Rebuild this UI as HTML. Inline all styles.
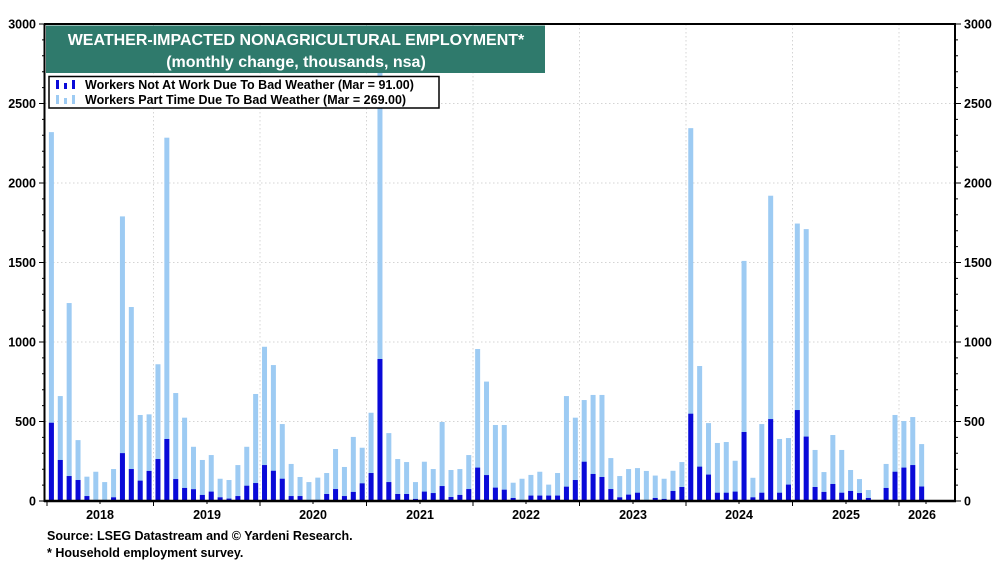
<!DOCTYPE html>
<html><head><meta charset="utf-8"><style>
html,body{margin:0;padding:0;background:#fff;}
svg{display:block;font-family:"Liberation Sans",Arial,sans-serif;font-weight:bold;}
</style></head><body>
<svg width="1000" height="563" viewBox="0 0 1000 563" xmlns="http://www.w3.org/2000/svg">
<rect width="1000" height="563" fill="#fff"/>
<g stroke="#d4d4d4" stroke-width="1" stroke-dasharray="1.5,2.5">
<line x1="45" x2="955" y1="421.5" y2="421.5"/><line x1="45" x2="955" y1="342" y2="342"/>
<line x1="45" x2="955" y1="262.5" y2="262.5"/><line x1="45" x2="955" y1="183" y2="183"/>
<line x1="45" x2="955" y1="103.5" y2="103.5"/>
<line x1="153.5" x2="153.5" y1="24" y2="501"/><line x1="260" x2="260" y1="24" y2="501"/>
<line x1="366.5" x2="366.5" y1="24" y2="501"/><line x1="473" x2="473" y1="24" y2="501"/>
<line x1="579.5" x2="579.5" y1="24" y2="501"/><line x1="686" x2="686" y1="24" y2="501"/>
<line x1="792.5" x2="792.5" y1="24" y2="501"/><line x1="899" x2="899" y1="24" y2="501"/>
</g>
<g transform="translate(48.9,501) scale(1,-0.159)" fill="#9dcbf3">
<rect x="0" width="5" height="2320"/><rect x="8.88" width="5" height="660"/><rect x="17.76" width="5" height="1245"/><rect x="26.64" width="5" height="383"/><rect x="35.52" width="5" height="153"/><rect x="44.4" width="5" height="184"/><rect x="53.28" width="5" height="119"/><rect x="62.16" width="5" height="201"/><rect x="71.04" width="5" height="1790"/><rect x="79.92" width="5" height="1220"/><rect x="88.8" width="5" height="541"/><rect x="97.68" width="5" height="545"/>
<rect x="106.56" width="5" height="860"/><rect x="115.44" width="5" height="2285"/><rect x="124.32" width="5" height="679"/><rect x="133.2" width="5" height="524"/><rect x="142.08" width="5" height="341"/><rect x="150.96" width="5" height="258"/><rect x="159.84" width="5" height="289"/><rect x="168.72" width="5" height="140"/><rect x="177.6" width="5" height="132"/><rect x="186.48" width="5" height="226"/><rect x="195.36" width="5" height="341"/><rect x="204.24" width="5" height="673"/>
<rect x="213.12" width="5" height="970"/><rect x="222" width="5" height="855"/><rect x="230.88" width="5" height="484"/><rect x="239.76" width="5" height="233"/><rect x="248.64" width="5" height="151"/><rect x="257.52" width="5" height="119"/><rect x="266.4" width="5" height="147"/><rect x="275.28" width="5" height="176"/><rect x="284.16" width="5" height="327"/><rect x="293.04" width="5" height="214"/><rect x="301.92" width="5" height="403"/><rect x="310.8" width="5" height="335"/>
<rect x="319.68" width="5" height="555"/><rect x="328.56" width="5" height="2700"/><rect x="337.44" width="5" height="427"/><rect x="346.32" width="5" height="264"/><rect x="355.2" width="5" height="245"/><rect x="364.08" width="5" height="119"/><rect x="372.96" width="5" height="247"/><rect x="381.84" width="5" height="201"/><rect x="390.72" width="5" height="497"/><rect x="399.6" width="5" height="195"/><rect x="408.48" width="5" height="201"/><rect x="417.36" width="5" height="289"/>
<rect x="426.24" width="5" height="956"/><rect x="435.12" width="5" height="751"/><rect x="444" width="5" height="478"/><rect x="452.88" width="5" height="478"/><rect x="461.76" width="5" height="115"/><rect x="470.64" width="5" height="140"/><rect x="479.52" width="5" height="164"/><rect x="488.4" width="5" height="184"/><rect x="497.28" width="5" height="103"/><rect x="506.16" width="5" height="176"/><rect x="515.04" width="5" height="660"/><rect x="523.92" width="5" height="524"/>
<rect x="532.8" width="5" height="635"/><rect x="541.68" width="5" height="667"/><rect x="550.56" width="5" height="667"/><rect x="559.44" width="5" height="270"/><rect x="568.32" width="5" height="157"/><rect x="577.2" width="5" height="201"/><rect x="586.08" width="5" height="207"/><rect x="594.96" width="5" height="189"/><rect x="603.84" width="5" height="160"/><rect x="612.72" width="5" height="140"/><rect x="621.6" width="5" height="190"/><rect x="630.48" width="5" height="245"/>
<rect x="639.36" width="5" height="2345"/><rect x="648.24" width="5" height="849"/><rect x="657.12" width="5" height="490"/><rect x="666" width="5" height="365"/><rect x="674.88" width="5" height="371"/><rect x="683.76" width="5" height="253"/><rect x="692.64" width="5" height="1510"/><rect x="701.52" width="5" height="146"/><rect x="710.4" width="5" height="484"/><rect x="719.28" width="5" height="1920"/><rect x="728.16" width="5" height="390"/><rect x="737.04" width="5" height="396"/>
<rect x="745.92" width="5" height="1745"/><rect x="754.8" width="5" height="1710"/><rect x="763.68" width="5" height="321"/><rect x="772.56" width="5" height="182"/><rect x="781.44" width="5" height="415"/><rect x="790.32" width="5" height="321"/><rect x="799.2" width="5" height="195"/><rect x="808.08" width="5" height="138"/><rect x="816.96" width="5" height="69"/><rect x="834.72" width="5" height="233"/><rect x="843.6" width="5" height="541"/><rect x="852.48" width="5" height="503"/>
<rect x="861.36" width="5" height="528"/><rect x="870.24" width="5" height="358"/>
</g>
<g transform="translate(48.9,501) scale(1,-0.159)" fill="#0a0ad8">
<rect x="0" width="5" height="492"/><rect x="8.88" width="5" height="258"/><rect x="17.76" width="5" height="157"/><rect x="26.64" width="5" height="132"/><rect x="35.52" width="5" height="31"/><rect x="44.4" width="5" height="5"/><rect x="53.28" width="5" height="3"/><rect x="62.16" width="5" height="23"/><rect x="71.04" width="5" height="301"/><rect x="79.92" width="5" height="201"/><rect x="88.8" width="5" height="128"/><rect x="97.68" width="5" height="189"/>
<rect x="106.56" width="5" height="264"/><rect x="115.44" width="5" height="390"/><rect x="124.32" width="5" height="138"/><rect x="133.2" width="5" height="82"/><rect x="142.08" width="5" height="74"/><rect x="150.96" width="5" height="38"/><rect x="159.84" width="5" height="59"/><rect x="168.72" width="5" height="23"/><rect x="177.6" width="5" height="15"/><rect x="186.48" width="5" height="31"/><rect x="195.36" width="5" height="96"/><rect x="204.24" width="5" height="113"/>
<rect x="213.12" width="5" height="226"/><rect x="222" width="5" height="190"/><rect x="230.88" width="5" height="140"/><rect x="239.76" width="5" height="31"/><rect x="248.64" width="5" height="31"/><rect x="257.52" width="5" height="3"/><rect x="266.4" width="5" height="5"/><rect x="275.28" width="5" height="44"/><rect x="284.16" width="5" height="75"/><rect x="293.04" width="5" height="31"/><rect x="301.92" width="5" height="57"/><rect x="310.8" width="5" height="111"/>
<rect x="319.68" width="5" height="176"/><rect x="328.56" width="5" height="893"/><rect x="337.44" width="5" height="119"/><rect x="346.32" width="5" height="44"/><rect x="355.2" width="5" height="44"/><rect x="364.08" width="5" height="13"/><rect x="372.96" width="5" height="59"/><rect x="381.84" width="5" height="50"/><rect x="390.72" width="5" height="94"/><rect x="399.6" width="5" height="25"/><rect x="408.48" width="5" height="38"/><rect x="417.36" width="5" height="75"/>
<rect x="426.24" width="5" height="210"/><rect x="435.12" width="5" height="163"/><rect x="444" width="5" height="84"/><rect x="452.88" width="5" height="71"/><rect x="461.76" width="5" height="19"/><rect x="470.64" width="5" height="2"/><rect x="479.52" width="5" height="34"/><rect x="488.4" width="5" height="34"/><rect x="497.28" width="5" height="34"/><rect x="506.16" width="5" height="34"/><rect x="515.04" width="5" height="90"/><rect x="523.92" width="5" height="132"/>
<rect x="532.8" width="5" height="247"/><rect x="541.68" width="5" height="170"/><rect x="550.56" width="5" height="151"/><rect x="559.44" width="5" height="75"/><rect x="568.32" width="5" height="23"/><rect x="577.2" width="5" height="40"/><rect x="586.08" width="5" height="52"/><rect x="594.96" width="5" height="2"/><rect x="603.84" width="5" height="19"/><rect x="612.72" width="5" height="13"/><rect x="621.6" width="5" height="63"/><rect x="630.48" width="5" height="88"/>
<rect x="639.36" width="5" height="549"/><rect x="648.24" width="5" height="216"/><rect x="657.12" width="5" height="166"/><rect x="666" width="5" height="52"/><rect x="674.88" width="5" height="52"/><rect x="683.76" width="5" height="59"/><rect x="692.64" width="5" height="434"/><rect x="701.52" width="5" height="23"/><rect x="710.4" width="5" height="52"/><rect x="719.28" width="5" height="515"/><rect x="728.16" width="5" height="52"/><rect x="737.04" width="5" height="103"/>
<rect x="745.92" width="5" height="572"/><rect x="754.8" width="5" height="405"/><rect x="763.68" width="5" height="88"/><rect x="772.56" width="5" height="57"/><rect x="781.44" width="5" height="107"/><rect x="790.32" width="5" height="52"/><rect x="799.2" width="5" height="63"/><rect x="808.08" width="5" height="50"/><rect x="816.96" width="5" height="19"/><rect x="834.72" width="5" height="82"/><rect x="843.6" width="5" height="184"/><rect x="852.48" width="5" height="210"/>
<rect x="861.36" width="5" height="226"/><rect x="870.24" width="5" height="91"/>
</g>
<g stroke="#000" fill="none">
<line x1="44.5" y1="24" x2="44.5" y2="502" stroke-width="2"/>
<line x1="955" y1="24" x2="955" y2="502" stroke-width="2"/>
<line x1="44" y1="24" x2="956" y2="24" stroke-width="2"/>
<line x1="44" y1="501" x2="956" y2="501" stroke-width="2.5"/>
</g>
<g stroke="#000" stroke-width="1">
<path d="M39 24H45M39 103.5H45M39 183H45M39 262.5H45M39 342H45M39 421.5H45M39 501H45 M955 24H961M955 103.5H961M955 183H961M955 262.5H961M955 342H961M955 421.5H961M955 501H961"/>
<path d="M42 39.9H45M42 55.8H45M42 71.7H45M42 87.6H45M42 119.4H45M42 135.3H45M42 151.2H45M42 167.1H45M42 198.9H45M42 214.8H45M42 230.7H45M42 246.6H45M42 278.4H45M42 294.3H45M42 310.2H45M42 326.1H45M42 357.9H45M42 373.8H45M42 389.7H45M42 405.6H45M42 437.4H45M42 453.3H45M42 469.2H45M42 485.1H45"/>
<path d="M955 39.9H958M955 55.8H958M955 71.7H958M955 87.6H958M955 119.4H958M955 135.3H958M955 151.2H958M955 167.1H958M955 198.9H958M955 214.8H958M955 230.7H958M955 246.6H958M955 278.4H958M955 294.3H958M955 310.2H958M955 326.1H958M955 357.9H958M955 373.8H958M955 389.7H958M955 405.6H958M955 437.4H958M955 453.3H958M955 469.2H958M955 485.1H958"/>
<path d="M47 501V506M153.5 501V506M260 501V506M366.5 501V506M473 501V506M579.5 501V506M686 501V506M792.5 501V506M899 501V506M100 501V504M207 501V504M313 501V504M420 501V504M526 501V504M633 501V504M739 501V504M846 501V504M926 501V504"/>
</g>
<g font-size="12.5" fill="#000">
<g text-anchor="end">
<text x="36" y="28.5">3000</text><text x="36" y="108">2500</text><text x="36" y="187.5">2000</text><text x="36" y="267">1500</text><text x="36" y="346.5">1000</text><text x="36" y="426">500</text><text x="36" y="505.5">0</text>
</g>
<text x="964" y="28.5">3000</text><text x="964" y="108">2500</text><text x="964" y="187.5">2000</text><text x="964" y="267">1500</text><text x="964" y="346.5">1000</text><text x="964" y="426">500</text><text x="964" y="505.5">0</text>
<g text-anchor="middle">
<text x="100" y="519">2018</text><text x="207" y="519">2019</text><text x="313" y="519">2020</text><text x="420" y="519">2021</text><text x="526" y="519">2022</text><text x="633" y="519">2023</text><text x="739" y="519">2024</text><text x="846" y="519">2025</text><text x="922" y="519">2026</text>
</g>
<text x="47" y="540">Source: LSEG Datastream and © Yardeni Research.</text>
<text x="47" y="557">* Household employment survey.</text>
</g>
<rect x="46" y="25.5" width="499" height="47.5" fill="#2f7a6c"/>
<g fill="#fff" font-size="16" text-anchor="middle">
<text x="296" y="45">WEATHER-IMPACTED NONAGRICULTURAL EMPLOYMENT*</text>
<text x="296" y="67">(monthly change, thousands, nsa)</text>
</g>
<rect x="49" y="76.5" width="390" height="31.5" fill="#fff" stroke="#000" stroke-width="1.5"/>
<g fill="#0a0ad8"><rect x="56" y="80" width="3" height="9"/><rect x="64" y="83" width="3" height="6"/><rect x="72" y="80" width="3" height="9"/></g>
<g fill="#9dcbf3"><rect x="56" y="95" width="3" height="9"/><rect x="64" y="98" width="3" height="6"/><rect x="72" y="95" width="3" height="9"/></g>
<g font-size="12.5" fill="#000">
<text x="85" y="89">Workers Not At Work Due To Bad Weather (Mar = 91.00)</text>
<text x="85" y="104">Workers Part Time Due To Bad Weather (Mar = 269.00)</text>
</g>
</svg>
</body></html>
